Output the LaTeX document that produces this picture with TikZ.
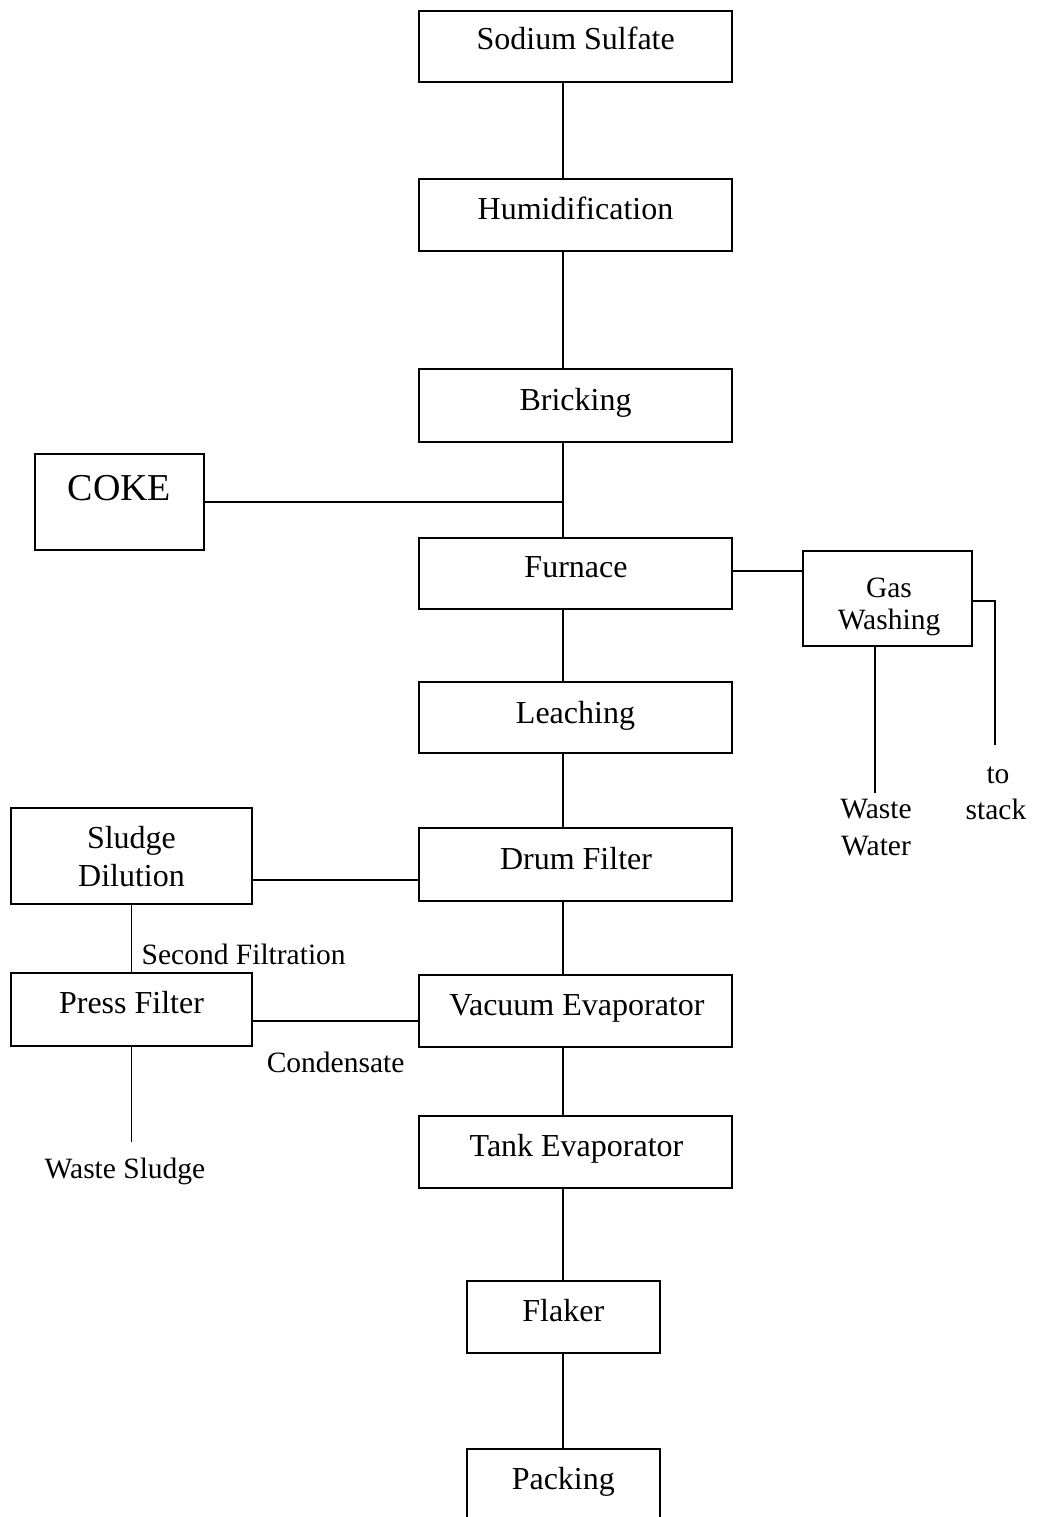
\documentclass[tikz,border=0pt]{standalone}
\usepackage{fontspec}
\setmainfont{Liberation Serif}
\begin{document}
\begin{tikzpicture}[x=1pt,y=-1pt,
  box/.style={draw, line width=1.6pt, rectangle, inner sep=0pt},
  conn/.style={line width=1.6pt},
  big/.style={font=\fontsize{32}{38}\selectfont, anchor=base, inner sep=0pt},
  small/.style={font=\fontsize{29.5}{36}\selectfont, anchor=base, inner sep=0pt},
  huge/.style={font=\fontsize{38}{44}\selectfont, anchor=base, inner sep=0pt}]
\useasboundingbox (0,0) rectangle (1038,1517);
\clip (0,0) rectangle (1038,1517);
% boxes
\node[box, minimum width=313pt, minimum height=71pt] (ss) at (575.5,46.5) {};
\node[box, minimum width=313pt, minimum height=72pt] (hum) at (575.5,215) {};
\node[box, minimum width=313pt, minimum height=73pt] (bri) at (575.5,405.5) {};
\node[box, minimum width=169pt, minimum height=96pt] (coke) at (119.5,502) {};
\node[box, minimum width=313pt, minimum height=71pt] (fur) at (575.5,573.5) {};
\node[box, minimum width=169pt, minimum height=95pt] (gas) at (887.5,598.5) {};
\node[box, minimum width=313pt, minimum height=71pt] (lea) at (575.5,717.5) {};
\node[box, minimum width=241pt, minimum height=96pt] (sd) at (131.5,856) {};
\node[box, minimum width=313pt, minimum height=73pt] (drum) at (575.5,864.5) {};
\node[box, minimum width=241pt, minimum height=73pt] (pf) at (131.5,1009.5) {};
\node[box, minimum width=313pt, minimum height=72pt] (vac) at (575.5,1011) {};
\node[box, minimum width=313pt, minimum height=72pt] (tank) at (575.5,1152) {};
\node[box, minimum width=193pt, minimum height=72pt] (flk) at (563.5,1317) {};
\node[box, minimum width=193pt, minimum height=111pt] (pack) at (563.5,1504.5) {};
% labels
\node[big] (tss) at (575.7,50) {Sodium Sulfate};
\node[big] (thum) at (575.5,219) {Humidification};
\node[big] (tbri) at (575.5,410) {Bricking};
\node[huge] (tcoke) at (119.5,500) {COKE};
\node[big] (tfur) at (576,577) {Furnace};
\node[small] (tgas1) at (889,597) {Gas};
\node[small] (tgas2) at (889,629) {Washing};
\node[big] (tlea) at (575.5,723) {Leaching};
\node[small] (tww1) at (876,818) {Waste};
\node[small] (tww2) at (876,855) {Water};
\node[small] (tst1) at (998,783) {to};
\node[small] (tst2) at (996,819) {stack};
\node[big] (tsd1) at (131.5,848) {Sludge};
\node[big] (tsd2) at (131.5,886) {Dilution};
\node[big] (tdrum) at (576,869) {Drum Filter};
\node[small] (tsec) at (243.7,964) {Second Filtration};
\node[big] (tpf) at (131.5,1013) {Press Filter};
\node[big] (tvac) at (577,1015) {Vacuum Evaporator};
\node[small] (tcond) at (335.6,1072) {Condensate};
\node[small] (twsl) at (125,1178) {Waste Sludge};
\node[big] (ttank) at (576.5,1156) {Tank Evaporator};
\node[big] (tflk) at (563.3,1321) {Flaker};
\node[big] (tpack) at (563.3,1489) {Packing};
% coordinates
\coordinate (sp) at (563,0);
\coordinate (j1) at (0,880);
\coordinate (j2) at (0,1021);
\coordinate (stk) at (995,745);
\coordinate (ww) at (875,793);
\coordinate (wsl) at (131.5,1142);
% connectors
\draw[conn] (ss.south -| sp) -- (hum.north -| sp);
\draw[conn] (hum.south -| sp) -- (bri.north -| sp);
\draw[conn] (bri.south -| sp) -- (fur.north -| sp);
\draw[conn] (coke.east) -- (coke.east -| sp);
\draw[conn] (fur.east |- 0,571) -- (gas.west |- 0,571);
\draw[conn] (gas.east |- 0,601) -| (stk);
\draw[conn] (gas.south -| ww) -- (ww);
\draw[conn] (fur.south -| sp) -- (lea.north -| sp);
\draw[conn] (lea.south -| sp) -- (drum.north -| sp);
\draw[conn] (sd.east |- j1) -- (drum.west |- j1);
\draw[conn] (sd.south) -- (pf.north);
\draw[conn] (drum.south -| sp) -- (vac.north -| sp);
\draw[conn] (pf.east |- j2) -- (vac.west |- j2);
\draw[conn] (pf.south) -- (wsl);
\draw[conn] (vac.south -| sp) -- (tank.north -| sp);
\draw[conn] (tank.south -| sp) -- (flk.north -| sp);
\draw[conn] (flk.south -| sp) -- (pack.north -| sp);
\end{tikzpicture}
\end{document}
